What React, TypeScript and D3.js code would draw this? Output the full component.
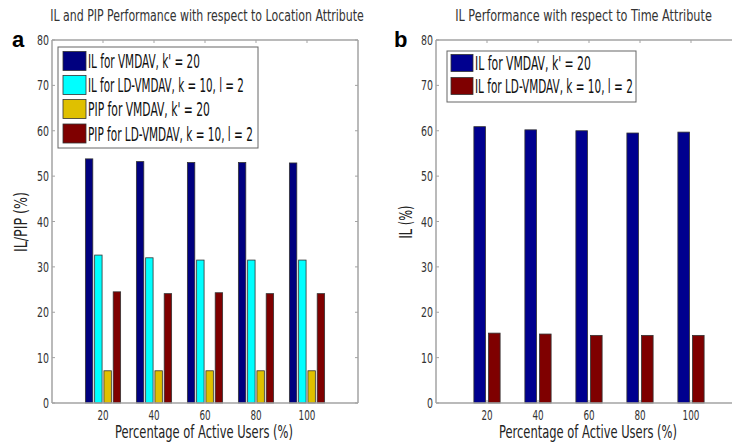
import React, { useLayoutEffect, useRef, useState } from "react";
import * as d3 from "d3";

const categories = ["20", "40", "60", "80", "100"];
const ilVmdavA = [53.8, 53.2, 53.0, 53.0, 52.9];
const ilLdVmdavA = [32.6, 32.0, 31.5, 31.5, 31.5];
const pipVmdavA = [7.1, 7.1, 7.1, 7.1, 7.1];
const pipLdVmdavA = [24.5, 24.1, 24.3, 24.1, 24.1];
const ilVmdavB = [60.9, 60.2, 60.0, 59.5, 59.7];
const ilLdVmdavB = [15.4, 15.2, 14.9, 14.9, 14.9];
const yTicks = [0, 10, 20, 30, 40, 50, 60, 70, 80];

const seriesA = [
  { name: "IL for VMDAV, k' = 20", values: ilVmdavA, color: "#00007f", tl: 112 },
  { name: "IL for LD-VMDAV, k = 10, l = 2", values: ilLdVmdavA, color: "#00ffff", tl: 156 },
  { name: "PIP for VMDAV, k' = 20", values: pipVmdavA, color: "#dfc000", tl: 122 },
  { name: "PIP for LD-VMDAV, k = 10, l = 2", values: pipLdVmdavA, color: "#7f0000", tl: 165 },
];
const seriesB = [
  { name: "IL for VMDAV, k' = 20", values: ilVmdavB, color: "#00008f", tl: 116 },
  { name: "IL for LD-VMDAV, k = 10, l = 2", values: ilLdVmdavB, color: "#7f0000", tl: 158 },
];

const FONT = "'Liberation Sans Narrow', 'DejaVu Sans Condensed', 'Roboto Condensed', sans-serif";
const AXIS = "#a3a3a3";

type Series = { name: string; values: number[]; color: string; tl: number };

function FitText(props: {
  x: number; y: number; width: number; size: number; anchor?: "start" | "middle" | "end";
  rotate?: number; fill?: string; children: string;
}) {
  const ref = useRef<SVGTextElement>(null);
  const [s, setS] = useState(1);
  useLayoutEffect(() => {
    if (ref.current) {
      const len = ref.current.getComputedTextLength();
      if (len > 0) setS(props.width / len);
    }
  }, [props.width, props.children, props.size]);
  return (
    <g transform={`translate(${props.x},${props.y}) rotate(${props.rotate || 0}) scale(${s},1)`}>
      <text ref={ref} x={0} y={0} textAnchor={props.anchor || "start"} fontFamily={FONT}
        fontSize={props.size} fill={props.fill || "#222"}>{props.children}</text>
    </g>
  );
}

function Panel(props: {
  series: Series[];
  x0: number;
  title: string;
  titleX: number;
  titleTL: number;
  letter: string;
  letterX: number;
  ylabel: string;
  ylabelX: number;
  ylabelTL: number;
  legend: { x: number; y: number; w: number; h: number; rowY: number[]; sw: number; sh: number; pad: number };
}) {
  const { series, x0 } = props;
  const x = d3.scaleLinear().domain([0, 6]).range([x0, x0 + 306]);
  const y = d3.scaleLinear().domain([0, 80]).range([403, 40]);
  const n = series.length;
  const groupW = Math.min(0.8, n / (n + 1.5));
  const step = groupW / n;
  const bw = step * 0.8;
  const unit = x(1) - x(0);
  const xl = x(0), xr = x(6), yt = y(80), yb = y(0);
  const lg = props.legend;
  return (
    <g>
      <FitText x={props.titleX} y={21} anchor="middle" size={15.5} fill="#333" width={props.titleTL}>{props.title}</FitText>
      <text x={props.letterX} y={47} fontFamily="'Liberation Sans', Arial, sans-serif" fontWeight="bold" fontSize={22} fill="#000">{props.letter}</text>
      {series.map((s, si) =>
        s.values.map((v, i) => {
          const c = i + 1 + (si - (n - 1) / 2) * step;
          return (
            <rect key={si + "-" + i} x={x(c - bw / 2)} y={y(v)} width={bw * unit} height={y(0) - y(v)}
              fill={s.color} stroke="#333" strokeWidth={0.8} />
          );
        })
      )}
      <line x1={xl} x2={xr} y1={yb} y2={yb} stroke={AXIS} strokeWidth={1.5} />
      <line x1={xl} x2={xr} y1={yt} y2={yt} stroke={AXIS} strokeWidth={1.5} />
      <line x1={xl} x2={xl} y1={yt} y2={yb} stroke={AXIS} strokeWidth={1.5} />
      <line x1={xr} x2={xr} y1={yt} y2={yb} stroke={AXIS} strokeWidth={1.5} />
      {yTicks.map((t) => (
        <g key={"yt" + t}>
          <line x1={xl} x2={xl + 3} y1={y(t)} y2={y(t)} stroke={AXIS} />
          <line x1={xr} x2={xr - 3} y1={y(t)} y2={y(t)} stroke={AXIS} />
          <FitText x={xl - 3} y={y(t) + 5} anchor="end" size={14.5} fill="#333" width={String(t).length * 6}>{String(t)}</FitText>
        </g>
      ))}
      {categories.map((c, i) => (
        <g key={"xt" + c}>
          <line x1={x(i + 1)} x2={x(i + 1)} y1={yt} y2={yt + 3} stroke={AXIS} />
          <line x1={x(i + 1)} x2={x(i + 1)} y1={yb} y2={yb - 3} stroke={AXIS} />
          <FitText x={x(i + 1)} y={420} anchor="middle" size={14} fill="#333" width={c.length * 5.6}>{c}</FitText>
        </g>
      ))}
      <FitText x={x0 + 152} y={438} anchor="middle" size={17} width={178}>Percentage of Active Users (%)</FitText>
      <FitText x={props.ylabelX} y={222} rotate={-90} anchor="middle" size={18} width={props.ylabelTL}>{props.ylabel}</FitText>
      <rect x={lg.x} y={lg.y} width={lg.w} height={lg.h} fill="#fff" stroke="#666" strokeWidth={1} />
      {series.map((s, si) => (
        <g key={"lg" + si}>
          <rect x={lg.x + lg.pad} y={lg.rowY[si] - lg.sh / 2} width={lg.sw} height={lg.sh} fill={s.color} stroke="#333" strokeWidth={0.8} />
          <FitText x={lg.x + lg.pad + lg.sw + 2} y={lg.rowY[si] + 7} size={19.5} fill="#111" width={s.tl}>{s.name}</FitText>
        </g>
      ))}
    </g>
  );
}

export default function App() {
  return (
    <svg width={732} height={443} style={{ position: "absolute", left: 0, top: 0, background: "#fff" }}>
      <rect x={0} y={0} width={732} height={443} fill="#fff" />
      <Panel
        series={seriesA}
        x0={52}
        title="IL and PIP Performance with respect to Location Attribute"
        titleX={207}
        titleTL={314}
        letter="a"
        letterX={12}
        ylabel="IL/PIP (%)"
        ylabelX={27}
        ylabelTL={60}
        legend={{ x: 58, y: 47, w: 200, h: 101, rowY: [61, 85, 109, 133.5], sw: 23, sh: 19, pad: 5 }}
      />
      <Panel
        series={seriesB}
        x0={436}
        title="IL Performance with respect to Time Attribute"
        titleX={583.5}
        titleTL={257}
        letter="b"
        letterX={394}
        ylabel="IL (%)"
        ylabelX={412}
        ylabelTL={33}
        legend={{ x: 447, y: 51, w: 189, h: 51, rowY: [63, 86], sw: 22, sh: 17, pad: 4 }}
      />
    </svg>
  );
}
